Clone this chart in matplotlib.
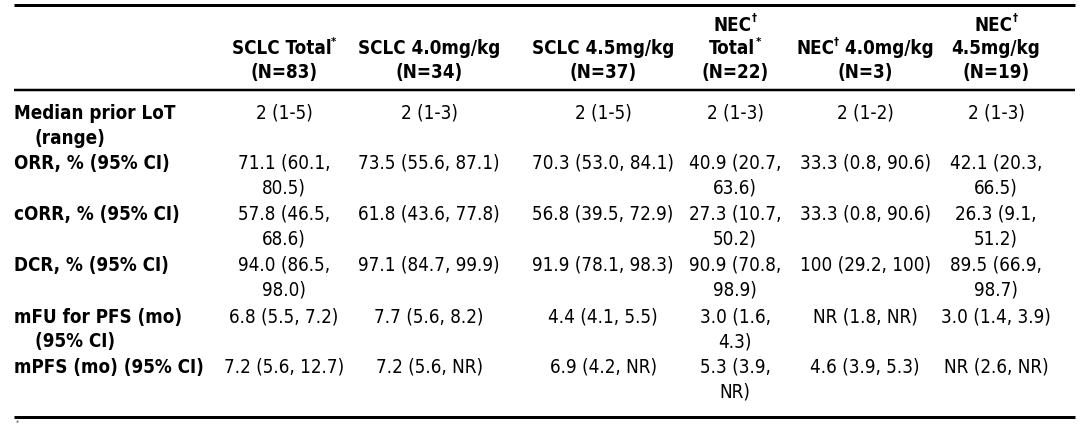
import matplotlib
matplotlib.use("Agg")
import matplotlib.pyplot as plt

plt.rcParams['font.family'] = ['Liberation Sans Narrow', 'DejaVu Sans']
plt.rcParams['font.stretch'] = 'condensed'

# column headers: (main text, superscript) per line
col_headers = [
    [("SCLC Total", "*"), ("(N=83)", "")],
    [("SCLC 4.0mg/kg", ""), ("(N=34)", "")],
    [("SCLC 4.5mg/kg", ""), ("(N=37)", "")],
    [("NEC", "\u2020"), ("Total", "*"), ("(N=22)", "")],
    [("NEC", "\u2020", " 4.0mg/kg"), ("(N=3)", "")],
    [("NEC", "\u2020"), ("4.5mg/kg", ""), ("(N=19)", "")],
]

row_labels = [
    ["Median prior LoT", "(range)"],
    ["ORR, % (95% CI)"],
    ["cORR, % (95% CI)"],
    ["DCR, % (95% CI)"],
    ["mFU for PFS (mo)", "(95% CI)"],
    ["mPFS (mo) (95% CI)"],
]

sclc_total = ["2 (1-5)", "71.1 (60.1,\n80.5)", "57.8 (46.5,\n68.6)", "94.0 (86.5,\n98.0)",
              "6.8 (5.5, 7.2)", "7.2 (5.6, 12.7)"]
sclc_40 = ["2 (1-3)", "73.5 (55.6, 87.1)", "61.8 (43.6, 77.8)", "97.1 (84.7, 99.9)",
           "7.7 (5.6, 8.2)", "7.2 (5.6, NR)"]
sclc_45 = ["2 (1-5)", "70.3 (53.0, 84.1)", "56.8 (39.5, 72.9)", "91.9 (78.1, 98.3)",
           "4.4 (4.1, 5.5)", "6.9 (4.2, NR)"]
nec_total = ["2 (1-3)", "40.9 (20.7,\n63.6)", "27.3 (10.7,\n50.2)", "90.9 (70.8,\n98.9)",
             "3.0 (1.6,\n4.3)", "5.3 (3.9,\nNR)"]
nec_40 = ["2 (1-2)", "33.3 (0.8, 90.6)", "33.3 (0.8, 90.6)", "100 (29.2, 100)",
          "NR (1.8, NR)", "4.6 (3.9, 5.3)"]
nec_45 = ["2 (1-3)", "42.1 (20.3,\n66.5)", "26.3 (9.1,\n51.2)", "89.5 (66.9,\n98.7)",
          "3.0 (1.4, 3.9)", "NR (2.6, NR)"]
columns = [sclc_total, sclc_40, sclc_45, nec_total, nec_40, nec_45]

col_x = [284, 429, 603, 735, 865, 996]
row_y = [113, 163, 214, 265, 317, 367]
line_gap = 25
fs = 13.5

fig = plt.figure(figsize=(10.8, 4.25), dpi=100)
ax = fig.add_axes([0, 0, 1, 1])
ax.set_xlim(0, 1080)
ax.set_ylim(425, 0)
ax.axis('off')
fig.canvas.draw()
renderer = fig.canvas.get_renderer()
inv = ax.transData.inverted()


def width_of(t):
    bb = t.get_window_extent(renderer)
    p0 = inv.transform((bb.x0, bb.y0))
    p1 = inv.transform((bb.x1, bb.y0))
    return p1[0] - p0[0]


def centered_pieces(xc, y, pieces):
    # pieces: list of (text, is_super)
    arts = []
    for s, sup in pieces:
        t = ax.text(0, y, s, fontsize=fs * (0.6 if sup else 1), fontweight='bold',
                    ha='left', va='center')
        arts.append((t, sup))
    fig.canvas.draw()
    widths = [width_of(t) for t, _ in arts]
    x = xc - sum(widths) / 2
    for (t, sup), w in zip(arts, widths):
        t.set_x(x)
        if sup:
            t.set_y(y - 7)
        x += w


# header rows
for xc, lines in zip(col_x, col_headers):
    n = len(lines)
    y0 = 72 - (n - 1) * 23.5
    for i, ln in enumerate(lines):
        if len(ln) == 3:
            pieces = [(ln[0], False), (ln[1], True), (ln[2], False)]
        else:
            pieces = [(ln[0], False)]
            if ln[1]:
                pieces.append((ln[1], True))
        centered_pieces(xc, y0 + i * 23.5, pieces)

# row labels
for y, lab in zip(row_y, row_labels):
    for i, s in enumerate(lab):
        ax.text(14 + (21 if i else 0), y + i * line_gap, s, fontsize=fs,
                fontweight='bold', ha='left', va='center')

# cell values
for xc, vals in zip(col_x, columns):
    for y, v in zip(row_y, vals):
        for i, s in enumerate(v.split("\n")):
            ax.text(xc, y + i * line_gap, s, fontsize=fs, ha='center', va='center')

# rules
for y, lw in [(4.5, 3.0), (90, 2.5), (416.5, 3.0)]:
    ax.plot([14, 1075], [y, y], color='black', lw=lw * 0.72, solid_capstyle='butt')

ax.text(16, 423, "*", fontsize=5, ha='left', va='center', color='#444444')

fig.savefig("out.png", dpi=100)
